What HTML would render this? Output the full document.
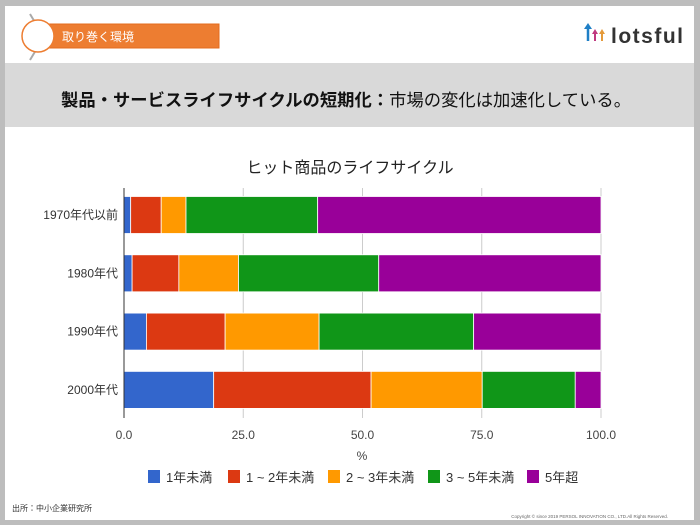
<!DOCTYPE html>
<html><head><meta charset="utf-8"><style>
body{margin:0;width:700px;height:525px;background:#bdbdbd;font-family:"Liberation Sans","Noto Sans CJK JP",sans-serif;overflow:hidden}
#frame{position:absolute;left:5px;top:6px;width:689px;height:514px;background:#fff}
#band{position:absolute;left:5px;top:63px;width:689px;height:64px;background:#d9d9d9}
</style></head><body>
<div id="frame"></div>
<div id="band"></div>
<svg width="700" height="525" style="position:absolute;left:0;top:0">
<line x1="30" y1="14" x2="36" y2="24" stroke="#aaa" stroke-width="2"/>
<line x1="30" y1="60" x2="36" y2="50" stroke="#aaa" stroke-width="2"/>
<rect x="36" y="24" width="183" height="24" fill="#ed7d31" stroke="#e46c1e"/>
<circle cx="38" cy="36" r="16" fill="#fff" stroke="#ed7d31" stroke-width="1.5"/>
<text x="62" y="41" font-size="12" fill="#fff">取り巻く環境</text>
<g>
<line x1="588" y1="41" x2="588" y2="26" stroke="#1f7fc6" stroke-width="2.5"/><path d="M584,29 L588,23 L592,29Z" fill="#1f7fc6"/>
<line x1="595" y1="41" x2="595" y2="32" stroke="#c0397f" stroke-width="2"/><path d="M592,34 L595,29 L598,34Z" fill="#c0397f"/>
<line x1="602" y1="41" x2="602" y2="32" stroke="#e49a3b" stroke-width="2"/><path d="M599,34 L602,29 L605,34Z" fill="#e49a3b"/>
<text x="611" y="43" font-size="21" font-weight="bold" fill="#333" textLength="72">lotsful</text></g>
<text x="61" y="106" font-size="17.3" fill="#111" textLength="570"><tspan font-weight="bold">製品・サービスライフサイクルの短期化：</tspan>市場の変化は加速化している。</text>
<text x="350" y="173" font-size="16" fill="#222" text-anchor="middle">ヒット商品のライフサイクル</text>
<g id="grid"></g><g id="bars"></g><g id="ylab"></g><g id="xlab"></g>
<line x1="124" y1="188" x2="124" y2="418" stroke="#333"/>
<text x="362" y="460" font-size="12" fill="#444" text-anchor="middle">%</text>
<g id="legend"></g>
<text x="12" y="511" font-size="8" fill="#333">出所：中小企業研究所</text>
<text x="668" y="518" font-size="4.5" fill="#666" text-anchor="end">Copyright © since 2019 PERSOL INNOVATION CO., LTD.All Rights Reserved.</text>
</svg>
<script>
const categories=["1970年代以前","1980年代","1990年代","2000年代"];
const seriesNames=["1年未満","1 ~ 2年未満","2 ~ 3年未満","3 ~ 5年未満","5年超"];
const s1=[1.4,1.7,4.7,18.8];
const s2=[6.4,9.8,16.5,33.0];
const s3=[5.2,12.5,19.7,23.3];
const s4=[27.6,29.4,32.4,19.5];
const s5=[59.4,46.6,26.7,5.4];
const ticks=[0,25,50,75,100];
const colors=["#3366cc","#dc3912","#ff9900","#109618","#990099"];
const NS="http://www.w3.org/2000/svg";
const X0=124,X1=601,xs=v=>X0+(X1-X0)*v/100;
const yc=i=>215+i*58.3,BH=37;
function mk(t,a,p){const e=document.createElementNS(NS,t);for(const k in a)e.setAttribute(k,a[k]);document.getElementById(p).appendChild(e);return e;}
ticks.forEach(t=>{
 const l=mk('line',{x1:xs(t),x2:xs(t),y1:188,y2:418,stroke:'#ccc'},'grid');
 
 
 const tx=mk('text',{x:xs(t),y:439,'font-size':12,fill:'#444','text-anchor':'middle'},'xlab');
 tx.textContent=t.toFixed(1);
 
 
});
const series=[s1,s2,s3,s4,s5];
categories.forEach((c,i)=>{
 let cum=0;
 series.forEach((s,j)=>{
  const r=mk('rect',{x:xs(cum),y:yc(i)-BH/2,width:xs(cum+s[i])-xs(cum),height:BH,fill:colors[j],stroke:'#fff','stroke-width':0.8},'bars');
  
  
  cum+=s[i];
 });
 const t=mk('text',{x:118,y:yc(i)+4,'font-size':12,fill:'#333','text-anchor':'end'},'ylab');
 t.textContent=c;
 
 
});
const lx=[148,228,328,428,527];
seriesNames.forEach((n,j)=>{
 const r=mk('rect',{x:lx[j],y:470,width:12,height:13,fill:colors[j]},'legend');
 
 
 const t=mk('text',{x:lx[j]+18,y:482,'font-size':13,fill:'#333'},'legend');
 t.textContent=n;
 
 
});
</script>
</body></html>
